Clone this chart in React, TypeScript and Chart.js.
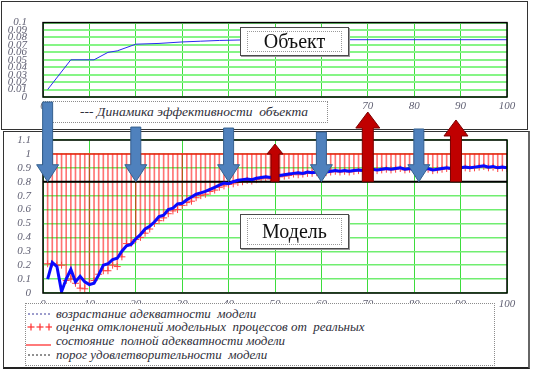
import React, { useEffect, useRef } from 'react';
import { Chart, registerables } from 'chart.js';

Chart.register(...registerables);

// ---------- DATA ----------
// Top chart: "Динамика эффективности объекта"
const objectX = [1, 6, 11, 14, 16, 20, 25, 30, 34, 38, 45, 100];
const objectY = [0.01, 0.05, 0.05, 0.06, 0.062, 0.071, 0.072, 0.074, 0.075, 0.076, 0.077, 0.077];

// Bottom chart: model adequacy growth (x = 1..100)
const adequacy = [
  0.10, 0.22, 0.19, 0.01, 0.10, 0.17, 0.08, 0.12, 0.08, 0.06,
  0.07, 0.13, 0.20, 0.21, 0.24, 0.25, 0.30, 0.34, 0.35, 0.39,
  0.42, 0.46, 0.48, 0.51, 0.55, 0.56, 0.60, 0.61, 0.64, 0.645,
  0.67, 0.69, 0.71, 0.72, 0.73, 0.745, 0.76, 0.775, 0.79, 0.785,
  0.80, 0.81, 0.815, 0.82, 0.815, 0.825, 0.83, 0.835, 0.83, 0.84,
  0.845, 0.85, 0.855, 0.86, 0.865, 0.86, 0.87, 0.865, 0.87, 0.875,
  0.87, 0.875, 0.88, 0.875, 0.88, 0.875, 0.88, 0.885, 0.88, 0.885,
  0.89, 0.885, 0.89, 0.895, 0.89, 0.895, 0.90, 0.89, 0.895, 0.89,
  0.885, 0.89, 0.895, 0.885, 0.89, 0.895, 0.90, 0.895, 0.89, 0.90,
  0.905, 0.90, 0.905, 0.91, 0.915, 0.905, 0.91, 0.90, 0.905, 0.90,
];

// Estimates of deviation of model processes from real ones (x = 1..100)
const estimate = [
  0.21, 0.21, 0.20, 0.20, 0.09, 0.10, 0.07, 0.035, 0.03, 0.07,
  0.09, 0.135, 0.16, 0.16, 0.20, 0.19, 0.26, 0.355, 0.355, 0.385,
  0.40, 0.43, 0.46, 0.50, 0.52, 0.54, 0.57, 0.59, 0.60, 0.63,
  0.65, 0.66, 0.685, 0.70, 0.71, 0.73, 0.74, 0.76, 0.77, 0.78,
  0.785, 0.795, 0.80, 0.81, 0.805, 0.815, 0.82, 0.825, 0.82, 0.83,
  0.835, 0.84, 0.845, 0.855, 0.85, 0.855, 0.86, 0.86, 0.865, 0.87,
  0.865, 0.87, 0.875, 0.87, 0.875, 0.87, 0.875, 0.88, 0.875, 0.88,
  0.885, 0.88, 0.885, 0.89, 0.885, 0.89, 0.895, 0.885, 0.89, 0.885,
  0.88, 0.885, 0.89, 0.88, 0.885, 0.89, 0.895, 0.89, 0.885, 0.895,
  0.90, 0.895, 0.90, 0.905, 0.91, 0.90, 0.905, 0.895, 0.90, 0.895,
];

const fullLevel = 1;
const thresholdLevel = 0.8;

// Arrows (x position, far end in y units, direction)
const arrowX = [1, 20, 40, 60, 81, 50, 70, 89];
const arrowEnd = [1.373, 1.193, 1.186, 1.157, 1.179, 1.071, 1.301, 1.244];
const arrowDir = ['down', 'down', 'down', 'down', 'down', 'up', 'up', 'up'];

const legendLabels = [
  'возрастание адекватности  модели',
  'оценка отклонений модельных  процессов от  реальных',
  'состояние  полной адекватности модели',
  'порог удовлетворительности  модели',
];
const topLegendLabel = '--- Динамика эффективности  объекта';

// ---------- STYLE ----------
const W = 534;
const H = 370;
const SERIF = '"Liberation Serif", "Times New Roman", "DejaVu Serif", serif';
const tickFont = { family: SERIF, size: 11, style: 'italic' as const };
const tickColor = '#5f5f72';

const framePlugin = (id: string, hook: 'afterDraw' | 'afterDatasetsDraw') => ({
  id,
  [hook](chart: any) {
    const { ctx, chartArea } = chart;
    const { left, top, right, bottom } = chartArea;
    ctx.save();
    ctx.strokeStyle = '#000';
    ctx.lineWidth = 1.5;
    ctx.strokeRect(left, top, right - left, bottom - top);
    ctx.restore();
  },
});

const arrowPlugin = {
  id: 'arrows',
  afterDraw(chart: any) {
    const { ctx, scales } = chart;
    const xs = scales.x;
    const ys = scales.y;
    const base = ys.getPixelForValue(thresholdLevel);
    arrowX.forEach((ax, i) => {
      const cx = xs.getPixelForValue(ax);
      const end = ys.getPixelForValue(arrowEnd[i]);
      const down = arrowDir[i] === 'down';
      const small = !down && arrowEnd[i] < 1.1;
      const sw = down ? 10 : small ? 8 : 11;
      const hw = down ? 22 : small ? 16 : 24;
      const hh = down ? 17 : small ? 10 : 16;
      ctx.save();
      ctx.beginPath();
      if (down) {
        ctx.moveTo(cx - sw / 2, end);
        ctx.lineTo(cx + sw / 2, end);
        ctx.lineTo(cx + sw / 2, base - hh);
        ctx.lineTo(cx + hw / 2, base - hh);
        ctx.lineTo(cx, base);
        ctx.lineTo(cx - hw / 2, base - hh);
        ctx.lineTo(cx - sw / 2, base - hh);
      } else {
        ctx.moveTo(cx - sw / 2, base);
        ctx.lineTo(cx + sw / 2, base);
        ctx.lineTo(cx + sw / 2, end + hh);
        ctx.lineTo(cx + hw / 2, end + hh);
        ctx.lineTo(cx, end);
        ctx.lineTo(cx - hw / 2, end + hh);
        ctx.lineTo(cx - sw / 2, end + hh);
      }
      ctx.closePath();
      ctx.fillStyle = down ? '#4f81bd' : '#c00000';
      ctx.strokeStyle = down ? '#35608f' : '#7a0000';
      ctx.lineWidth = 1;
      ctx.fill();
      ctx.stroke();
      ctx.restore();
    });
  },
};

function TopChart() {
  const ref = useRef<HTMLCanvasElement | null>(null);
  useEffect(() => {
    if (!ref.current) return;
    const chart = new Chart(ref.current, {
      type: 'scatter',
      data: {
        datasets: [
          {
            type: 'line',
            label: 'Динамика эффективности объекта',
            data: objectX.map((x, i) => ({ x, y: objectY[i] })),
            borderColor: '#2a2af0',
            borderWidth: 1,
            pointRadius: 0,
            tension: 0,
          } as any,
        ],
      },
      options: {
        responsive: false,
        animation: false,
        events: [],
        layout: { padding: { top: 10, right: W - 507, left: 0, bottom: H - 97 - 20 } },
        plugins: { legend: { display: false }, tooltip: { enabled: false } },
        scales: {
          x: {
            type: 'linear',
            min: 0,
            max: 100,
            offset: false,
            ticks: { stepSize: 10, font: tickFont, color: tickColor, padding: 3, maxRotation: 0, autoSkip: false },
            grid: { color: '#3ddc3d', lineWidth: 1, drawTicks: false },
            border: { display: false },
            afterFit: (s: any) => { s.height = 20; },
          },
          y: {
            min: 0,
            max: 0.1,
            ticks: {
              stepSize: 0.01,
              font: tickFont,
              color: tickColor,
              padding: 16,
              autoSkip: false,
              callback: (v: any) => String(Math.round(Number(v) * 100) / 100),
            },
            grid: { color: '#86f586', lineWidth: 2, drawTicks: false },
            border: { display: false },
            afterFit: (s: any) => { s.width = 43; },
          },
        },
      },
      plugins: [framePlugin('topFrame', 'afterDraw')],
    });
    return () => chart.destroy();
  }, []);
  return <canvas ref={ref} width={W} height={H} style={{ position: 'absolute', left: 0, top: 0, width: W, height: H, zIndex: 2 }} />;
}

function BottomChart() {
  const ref = useRef<HTMLCanvasElement | null>(null);
  useEffect(() => {
    if (!ref.current) return;
    const chart = new Chart(ref.current, {
      type: 'scatter',
      data: {
        datasets: [
          {
            type: 'line',
            label: legendLabels[0],
            data: adequacy.map((v, i) => ({ x: i + 1, y: v })),
            borderColor: '#0a0aff',
            borderWidth: 3,
            pointRadius: 0,
            tension: 0,
          },
          {
            type: 'line',
            label: legendLabels[3],
            data: [{ x: 0, y: thresholdLevel }, { x: 100, y: thresholdLevel }],
            borderColor: '#000',
            borderWidth: 2,
            pointRadius: 0,
          },
          {
            type: 'line',
            label: legendLabels[2],
            data: [{ x: 1, y: fullLevel }, { x: 100, y: fullLevel }],
            borderColor: '#ff1a1a',
            borderWidth: 1.5,
            pointRadius: 0,
          },
          {
            type: 'scatter',
            label: legendLabels[1],
            data: estimate.map((v, i) => ({ x: i + 1, y: v })),
            pointStyle: 'cross',
            pointRadius: 3.5,
            borderColor: '#ff4040',
            borderWidth: 1,
          },
          {
            type: 'bar',
            label: 'bars',
            data: estimate.map((v, i) => ({ x: i + 1, y: [v, fullLevel] })),
            backgroundColor: 'rgba(255,0,0,0.55)',
            barThickness: 1,
            borderWidth: 0,
            grouped: false,
          },
        ] as any,
      },
      options: {
        responsive: false,
        animation: false,
        events: [],
        layout: { padding: { top: 140, right: W - 507, left: 0, bottom: H - 293 - 20 } },
        plugins: { legend: { display: false }, tooltip: { enabled: false } },
        scales: {
          x: {
            type: 'linear',
            min: 0,
            max: 100,
            offset: false,
            ticks: { stepSize: 10, font: tickFont, color: tickColor, padding: 5, maxRotation: 0, autoSkip: false },
            grid: { color: '#3ddc3d', lineWidth: 1, drawTicks: false, offset: false },
            border: { display: false },
            afterFit: (s: any) => { s.height = 20; },
          },
          y: {
            min: 0,
            max: 1.1,
            ticks: {
              stepSize: 0.1,
              font: tickFont,
              color: tickColor,
              padding: 12,
              autoSkip: false,
              callback: (v: any) => String(Math.round(Number(v) * 10) / 10),
            },
            grid: { color: '#70ee70', lineWidth: 1.5, drawTicks: false },
            border: { display: false },
            afterFit: (s: any) => { s.width = 43; },
          },
        },
      },
      plugins: [framePlugin('bottomFrame', 'afterDatasetsDraw'), arrowPlugin],
    });
    return () => chart.destroy();
  }, []);
  return <canvas ref={ref} width={W} height={H} style={{ position: 'absolute', left: 0, top: 0, width: W, height: H, zIndex: 4 }} />;
}

const italicText: React.CSSProperties = {
  fontFamily: SERIF,
  fontStyle: 'italic',
  fontSize: 13,
  color: '#2f2f3a',
  whiteSpace: 'pre',
};

function LabelBox({ left, top, width, height, text, z }: { left: number; top: number; width: number; height: number; text: string; z: number }) {
  return (
    <div style={{ position: 'absolute', left, top, width, height, boxSizing: 'border-box', border: '1.5px solid #4a4a4a', background: '#fff', zIndex: z, boxShadow: '1px 1px 0 #999' }}>
      <div style={{ position: 'absolute', left: 6, top: 3, right: 6, bottom: 3, border: '1px dotted #9a9a9a', display: 'flex', alignItems: 'center', justifyContent: 'center', fontFamily: SERIF, fontSize: 20, color: '#111' }}>
        {text}
      </div>
    </div>
  );
}

function LegendSymbol({ kind }: { kind: number }) {
  if (kind === 0) {
    return <svg width={26} height={14}><line x1={2} y1={7} x2={25} y2={7} stroke="#3a3a9a" strokeWidth={1} strokeDasharray="2,2" /></svg>;
  }
  if (kind === 1) {
    return (
      <svg width={26} height={14}>
        {[5, 14, 23].map((cx) => (
          <g key={cx} stroke="#ff3030" strokeWidth={1.2}>
            <line x1={cx - 3.5} y1={7} x2={cx + 3.5} y2={7} />
            <line x1={cx} y1={3.5} x2={cx} y2={10.5} />
          </g>
        ))}
      </svg>
    );
  }
  if (kind === 2) {
    return <svg width={26} height={14}><line x1={0} y1={11} x2={25} y2={11} stroke="#ff2020" strokeWidth={1.2} /></svg>;
  }
  return <svg width={26} height={14}><line x1={2} y1={7} x2={25} y2={7} stroke="#222" strokeWidth={1} strokeDasharray="2,2" /></svg>;
}

export default function App() {
  const rowTops = [4, 17, 31, 45];
  return (
    <div style={{ position: 'fixed', left: 0, top: 0, width: W, height: H, background: '#fff', overflow: 'hidden' }}>
      {/* frames */}
      <div style={{ position: 'absolute', left: 1, top: 1, width: 527, height: 129, boxSizing: 'border-box', border: '1.5px solid #333', zIndex: 1 }} />
      <div style={{ position: 'absolute', left: 3, top: 131, width: 527, height: 238, boxSizing: 'border-box', borderTop: '1.5px solid #333', borderLeft: '1.5px solid #333', borderRight: '2px solid #666', borderBottom: '2px solid #222', zIndex: 1 }} />

      <TopChart />

      <LabelBox left={240} top={27} width={109} height={29} text="Объект" z={3} />

      <div style={{ position: 'absolute', left: 43, top: 101, width: 285, height: 22, boxSizing: 'border-box', border: '1px dotted #8c8c8c', background: '#fff', zIndex: 3 }}>
        <div style={{ ...italicText, fontSize: 13.5, position: 'absolute', left: 36, top: 2 }}>{topLegendLabel}</div>
      </div>

      <BottomChart />

      <LabelBox left={240} top={214} width={109} height={35} text="Модель" z={5} />

      <div style={{ position: 'absolute', left: 25, top: 303, width: 470, height: 63, boxSizing: 'border-box', border: '1px dotted #8c8c8c', background: '#fff', zIndex: 5 }}>
        {legendLabels.map((lab, i) => (
          <div key={lab} style={{ position: 'absolute', left: 0, top: rowTops[i] - 1, height: 14, display: 'flex', alignItems: 'center' }}>
            <LegendSymbol kind={i} />
            <span style={{ ...italicText, marginLeft: 4, lineHeight: '14px' }}>{lab}</span>
          </div>
        ))}
      </div>
    </div>
  );
}
